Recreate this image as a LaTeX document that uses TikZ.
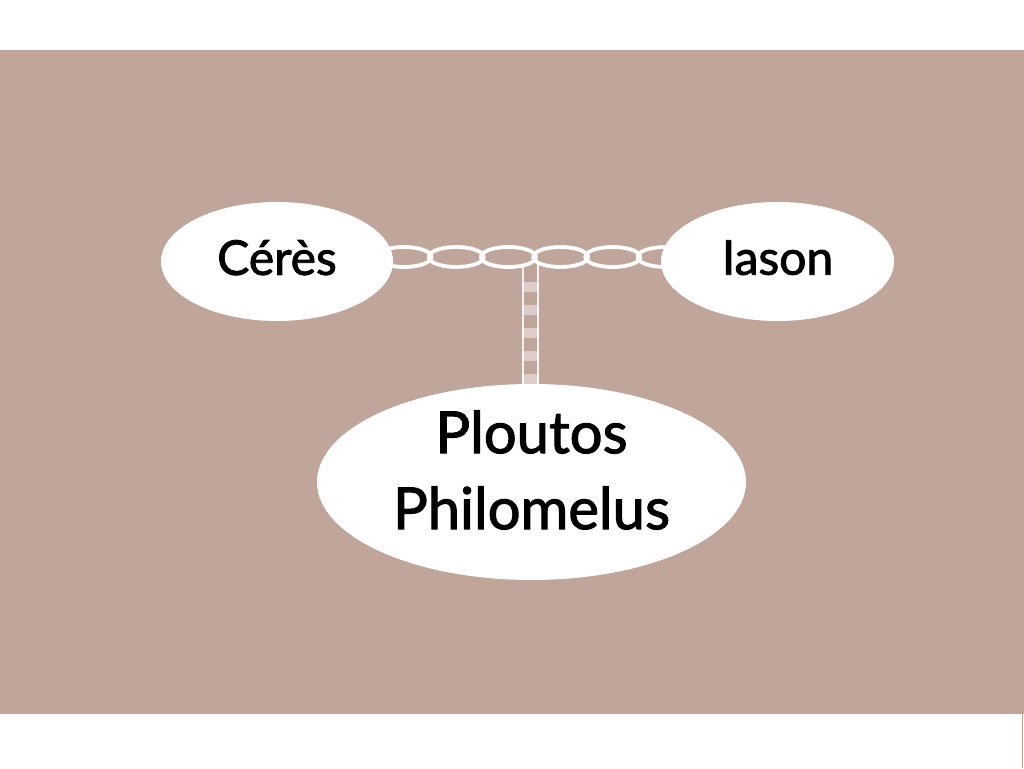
\documentclass[tikz,border=0pt]{standalone}
\usepackage{fontspec}
\setmainfont{Lato}[FakeBold=1.8]
\usetikzlibrary{shapes.geometric,calc}
\definecolor{bgbrown}{RGB}{192,165,155}
\pgfdeclarelayer{bg}
\pgfsetlayers{bg,main}
\tikzset{
  bubble/.style={ellipse, fill=white, draw=none, inner sep=0pt, text=black},
  bigtext/.style={align=center, inner sep=0pt, text=black, font=\fontsize{58}{76}\selectfont},
  chainlink/.style={draw=white, line width=3.8pt},
  rail/.style={draw=white, line width=2.5pt, opacity=0.85},
  rung/.style={fill=white, opacity=0.45, draw=none}
}
\begin{document}
\begin{tikzpicture}[x=1pt,y=1pt]
\useasboundingbox (0,0) rectangle (1024,768);
\node[bubble, minimum width=232pt, minimum height=119pt, text depth=8pt, font=\fontsize{48}{56}\selectfont] (c) at (277,506.5) {Cérès};
\node[bubble, minimum width=233pt, minimum height=119pt, text depth=8pt, font=\fontsize{48}{56}\selectfont] (i) at (777.5,506.5) {Iason};
\node[bubble, minimum width=429pt, minimum height=196pt] (p) at (531.5,286) {};
\node[bigtext] (pl) at ($(p.center)+(0,12)$) {Ploutos\\Philomelus};
\coordinate (t) at ($(p.north)+(-1,120)$);
\begin{pgfonlayer}{bg}
  \fill[white] (0,0) rectangle (1024,768);
  \fill[bgbrown] (0,54) rectangle (1024,718);
  \draw[bgbrown, line width=1pt] (1022.5,0) -- (1022.5,54);
  \foreach \k in {0,...,5}
    \draw[chainlink] ($(c.center)+(127+52.2*\k,4.5)$) ellipse (27.5pt and 10pt);
  \draw[rail] ($(t)+(-7.5,0)$) -- ($(p.north)+(-8.5,-2)$);
  \draw[rail] ($(t)+(7.5,0)$) -- ($(p.north)+(6.5,-2)$);
  \foreach \k in {0,...,4}
    \fill[rung] ($(t)+(-8.5,-18-23*\k)$) rectangle ($(t)+(8.5,-28-23*\k)$);
\end{pgfonlayer}
\end{tikzpicture}
\end{document}
